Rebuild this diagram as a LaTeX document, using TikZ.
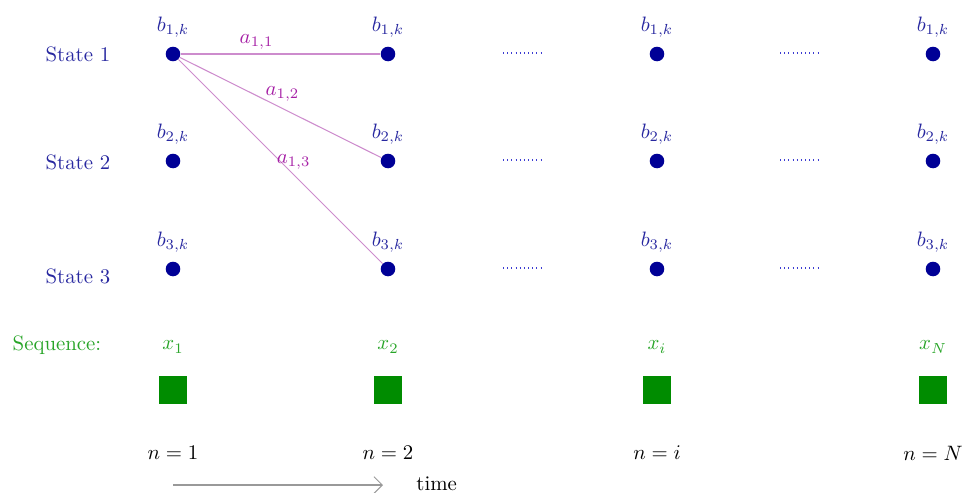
\documentclass[tikz,border=0pt]{standalone}
\usetikzlibrary{arrows.meta}
\definecolor{dotblue}{RGB}{0,0,150}
\definecolor{txtblue}{RGB}{40,40,160}
\definecolor{dotline}{RGB}{60,60,210}
\definecolor{trans}{RGB}{205,140,205}
\definecolor{translbl}{RGB}{165,30,165}
\definecolor{seqgreen}{RGB}{40,165,40}
\definecolor{boxgreen}{RGB}{0,140,0}
\tikzset{
  statedot/.style={circle,fill=dotblue,inner sep=0pt,minimum size=7pt},
  blabel/.style={text=txtblue},
  statelbl/.style={text=txtblue},
  translink/.style={draw=trans,line width=0.5pt},
  alabel/.style={text=translbl,inner sep=1pt},
  dotsline/.style={draw=dotline,line width=0.8pt,dash pattern=on 0.5pt off 1.5pt},
  seqbox/.style={fill=boxgreen,inner sep=0pt,minimum size=13.5pt},
  xlabel/.style={text=seqgreen},
  timearrow/.style={draw=gray!80,-{Straight Barb[length=4pt]},line width=0.5pt}
}
\begin{document}
\begin{tikzpicture}[x=0.48pt,y=-0.48pt]
\useasboundingbox (0,0) rectangle (965,492);
% state labels
\node[statelbl] (s1) at (78,54) {State 1};
\node[statelbl] (s2) at (78,162) {State 2};
\node[statelbl] (s3) at (78,276) {State 3};
% columns
\foreach \c/\x in {1/173,2/388,3/657,4/933}{
  \foreach \r/\y in {1/54,2/161,3/269}{
    \node[statedot] (d\r\c) at (\x,\y) {};
    \node[blabel] (b\r\c) at (\x,\y-27) {$b_{\r,k}$};
  }
  \node[seqbox] (q\c) at (\x,390) {};
}
% transitions
\draw[translink] (d11) -- node[alabel,pos=0.38,above=1pt] (a11) {$a_{1,1}$} (d12);
\draw[translink] (d11) -- node[alabel,pos=0.51,above=2pt] (a12) {$a_{1,2}$} (d22);
\draw[translink] (d11) -- node[alabel,pos=0.5,right=-3pt] (a13) {$a_{1,3}$} (d32);
% dotted continuation
\foreach \r/\y in {1/53,2/160,3/268}{
  \coordinate (p\r a) at (503,\y); \coordinate (p\r b) at (543,\y);
  \coordinate (p\r c) at (780,\y); \coordinate (p\r d) at (819,\y);
  \draw[dotsline] (p\r a) -- (p\r b);
  \draw[dotsline] (p\r c) -- (p\r d);
}
% sequence
\node[xlabel] (seq) at (57,345) {Sequence:};
\node[xlabel] (x1) at (173,347) {$x_1$};
\node[xlabel] (x2) at (388,347) {$x_2$};
\node[xlabel] (x3) at (657,347) {$x_i$};
\node[xlabel] (x4) at (933,347) {$x_N$};
% time indices
\node (n1) at (173,453) {$n=1$};
\node (n2) at (388,453) {$n=2$};
\node (n3) at (657,453) {$n=i$};
\node (n4) at (933,453) {$n=N$};
% time arrow
\coordinate (ta) at (173,485);
\coordinate (tb) at (383,485);
\draw[timearrow] (ta) -- (tb);
\node[anchor=base west,inner sep=0pt] (time) at (416,490) {time};
\end{tikzpicture}
\end{document}
